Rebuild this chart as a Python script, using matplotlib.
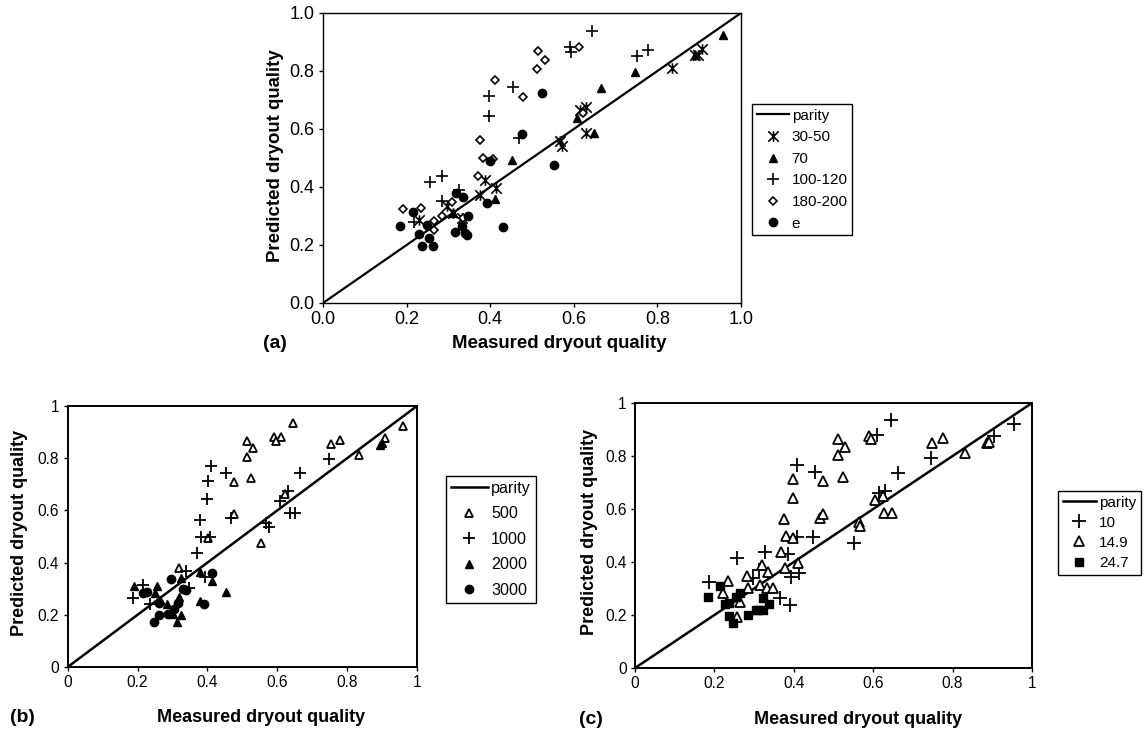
import matplotlib
matplotlib.use("Agg")
import matplotlib.pyplot as plt
from matplotlib.path import Path

plt.rcParams['font.family'] = ['Liberation Sans', 'DejaVu Sans']

# ---- panel (a): grouped by inlet subcooling ----
a_3050_x = [0.229, 0.297, 0.311, 0.333, 0.376, 0.388, 0.415, 0.566, 0.572, 0.616, 0.628, 0.628, 0.835, 0.891, 0.896, 0.907]
a_3050_y = [0.285, 0.336, 0.310, 0.293, 0.374, 0.425, 0.397, 0.557, 0.540, 0.667, 0.676, 0.586, 0.810, 0.854, 0.856, 0.876]
a_70_x = [0.310, 0.412, 0.452, 0.608, 0.648, 0.665, 0.747, 0.891, 0.957]
a_70_y = [0.310, 0.359, 0.492, 0.638, 0.586, 0.741, 0.797, 0.854, 0.925]
a_100_x = [0.217, 0.257, 0.285, 0.285, 0.325, 0.396, 0.396, 0.455, 0.468, 0.592, 0.593, 0.644, 0.751, 0.777]
a_100_y = [0.278, 0.417, 0.437, 0.351, 0.391, 0.713, 0.644, 0.745, 0.569, 0.882, 0.864, 0.939, 0.853, 0.874]
a_180_x = [0.191, 0.234, 0.265, 0.266, 0.285, 0.308, 0.335, 0.372, 0.376, 0.383, 0.406, 0.411, 0.478, 0.512, 0.514, 0.530, 0.612, 0.622]
a_180_y = [0.325, 0.328, 0.284, 0.253, 0.299, 0.348, 0.293, 0.439, 0.563, 0.500, 0.498, 0.770, 0.709, 0.807, 0.868, 0.839, 0.883, 0.655]
a_e_x = [0.185, 0.215, 0.229, 0.238, 0.249, 0.254, 0.262, 0.316, 0.318, 0.333, 0.335, 0.340, 0.345, 0.347, 0.392, 0.400, 0.430, 0.476, 0.525, 0.552]
a_e_y = [0.264, 0.314, 0.238, 0.195, 0.269, 0.223, 0.198, 0.244, 0.379, 0.264, 0.364, 0.241, 0.236, 0.299, 0.345, 0.489, 0.261, 0.584, 0.724, 0.475]

# ---- panel (b): grouped by mass flux ----
b_500_x = [0.645, 0.514, 0.530, 0.592, 0.611, 0.597, 0.513, 0.526, 0.476, 0.476, 0.554, 0.402, 0.319, 0.623, 0.959, 0.908, 0.835, 0.753, 0.780]
b_500_y = [0.936, 0.867, 0.838, 0.880, 0.883, 0.867, 0.806, 0.723, 0.708, 0.585, 0.474, 0.493, 0.378, 0.663, 0.923, 0.876, 0.812, 0.853, 0.870]
b_1000_x = [0.411, 0.402, 0.400, 0.454, 0.378, 0.381, 0.407, 0.467, 0.370, 0.338, 0.392, 0.348, 0.216, 0.186, 0.235, 0.569, 0.575, 0.607, 0.630, 0.635, 0.650, 0.666, 0.749]
b_1000_y = [0.770, 0.713, 0.642, 0.742, 0.563, 0.499, 0.497, 0.572, 0.438, 0.369, 0.346, 0.301, 0.314, 0.266, 0.241, 0.553, 0.538, 0.637, 0.676, 0.589, 0.589, 0.742, 0.796]
b_2000_x = [0.190, 0.256, 0.250, 0.264, 0.285, 0.302, 0.313, 0.323, 0.323, 0.319, 0.378, 0.378, 0.414, 0.452, 0.893, 0.899]
b_2000_y = [0.310, 0.310, 0.282, 0.257, 0.241, 0.203, 0.174, 0.199, 0.340, 0.269, 0.365, 0.254, 0.331, 0.289, 0.850, 0.857]
b_3000_x = [0.228, 0.216, 0.248, 0.262, 0.288, 0.297, 0.305, 0.316, 0.330, 0.340, 0.390, 0.414, 0.262]
b_3000_y = [0.286, 0.282, 0.171, 0.199, 0.202, 0.336, 0.221, 0.244, 0.298, 0.295, 0.240, 0.361, 0.244]

# ---- panel (c): grouped by pressure ----
c_10_x = [0.187, 0.256, 0.296, 0.327, 0.386, 0.392, 0.414, 0.364, 0.390, 0.407, 0.409, 0.449, 0.453, 0.552, 0.610, 0.644, 0.663, 0.746, 0.904, 0.955, 0.615, 0.630, 0.313]
c_10_y = [0.326, 0.416, 0.338, 0.439, 0.430, 0.345, 0.360, 0.263, 0.238, 0.496, 0.766, 0.493, 0.741, 0.473, 0.879, 0.936, 0.737, 0.794, 0.875, 0.920, 0.659, 0.669, 0.370]
c_149_x = [0.233, 0.221, 0.264, 0.258, 0.283, 0.319, 0.334, 0.285, 0.315, 0.332, 0.347, 0.369, 0.375, 0.380, 0.399, 0.397, 0.397, 0.378,
           0.411, 0.466, 0.474, 0.474, 0.512, 0.512, 0.529, 0.523, 0.563, 0.568, 0.590, 0.594, 0.605, 0.749, 0.775, 0.831, 0.886, 0.892, 0.626, 0.647, 0.624]
c_149_y = [0.330, 0.282, 0.250, 0.194, 0.347, 0.389, 0.364, 0.301, 0.313, 0.301, 0.301, 0.439, 0.561, 0.498, 0.489, 0.712, 0.640, 0.376,
           0.395, 0.565, 0.581, 0.706, 0.804, 0.863, 0.835, 0.722, 0.552, 0.536, 0.875, 0.863, 0.634, 0.850, 0.867, 0.810, 0.850, 0.852, 0.586, 0.586, 0.649]
c_247_x = [0.183, 0.214, 0.227, 0.238, 0.238, 0.246, 0.254, 0.264, 0.285, 0.305, 0.311, 0.322, 0.322, 0.338]
c_247_y = [0.267, 0.309, 0.242, 0.247, 0.197, 0.171, 0.269, 0.284, 0.200, 0.219, 0.219, 0.219, 0.265, 0.242]

parity = [0, 1]
ticks = [0, 0.2, 0.4, 0.6, 0.8, 1.0]
ticklabels_a = ['0.0', '0.2', '0.4', '0.6', '0.8', '1.0']
ticklabels_bc = ['0', '0.2', '0.4', '0.6', '0.8', '1']

# Excel-style star marker: X with a vertical bar
star = Path([(-1, -1), (1, 1), (-1, 1), (1, -1), (0, -1), (0, 1)],
            [Path.MOVETO, Path.LINETO] * 3)

W, H = 1144, 731
fig = plt.figure(figsize=(W / 100, H / 100), dpi=100)


def px_axes(l, r, t, b):
    return fig.add_axes([l / W, 1 - b / H, (r - l) / W, (b - t) / H])


def style(ax, labels, tsize, spw):
    ax.set_xlim(0, 1)
    ax.set_ylim(0, 1)
    ax.set_xticks(ticks)
    ax.set_yticks(ticks)
    ax.set_xticklabels(labels)
    ax.set_yticklabels(labels)
    ax.tick_params(direction='out', length=3, width=1, labelsize=tsize, pad=3, colors='black')
    for s in ax.spines.values():
        s.set_linewidth(spw)


def legend(ax, x, y, spacing, fs=11, hl=2.2):
    lg = ax.legend(loc='upper left', bbox_to_anchor=(x / W, 1 - y / H), bbox_transform=fig.transFigure,
                   fontsize=fs, frameon=True, fancybox=False, edgecolor='black', framealpha=1,
                   handlelength=hl, handletextpad=0.2, borderpad=0.3, labelspacing=spacing,
                   borderaxespad=0)
    lg.get_frame().set_linewidth(1)


k = dict(linestyle='none', color='black')

# (a)
ax = px_axes(323, 741, 13, 303)
ax.plot(parity, parity, color='black', lw=1.6, label='parity')
ax.plot(a_3050_x, a_3050_y, marker=star, ms=7.5, mew=1.2, mfc='none', label='30-50', **k)
ax.plot(a_70_x, a_70_y, marker='^', ms=6, label='70', **k)
ax.plot(a_100_x, a_100_y, marker='+', ms=9, mew=1.2, label='100-120', **k)
ax.plot(a_180_x, a_180_y, marker='D', ms=4.2, mew=1.2, mfc='white', label='180-200', **k)
ax.plot(a_e_x, a_e_y, marker='o', ms=6, label='e', **k)
style(ax, ticklabels_a, 13, 1.0)
legend(ax, 752, 104, 0.5, 11, 2.1)
fig.text(559 / W, 1 - 343 / H, 'Measured dryout quality', ha='center', va='center', fontsize=13.4, fontweight='bold')
fig.text(275 / W, 1 - 156 / H, 'Predicted dryout quality', ha='center', va='center', rotation=90, fontsize=13.4, fontweight='bold')
fig.text(275 / W, 1 - 343 / H, '(a)', ha='center', va='center', fontsize=14, fontweight='bold')

# (b)
ax = px_axes(67.7, 417, 406, 667)
ax.plot(parity, parity, color='black', lw=1.8, label='parity')
ax.plot(b_500_x, b_500_y, marker='^', ms=5.5, mew=1.3, mfc='white', label='500', **k)
ax.plot(b_1000_x, b_1000_y, marker='+', ms=9, mew=1.3, label='1000', **k)
ax.plot(b_2000_x, b_2000_y, marker='^', ms=5.5, label='2000', **k)
ax.plot(b_3000_x, b_3000_y, marker='o', ms=6, label='3000', **k)
style(ax, ticklabels_bc, 11.2, 1.4)
legend(ax, 446, 476, 0.65, 11.6, 2.3)
fig.text(261 / W, 1 - 718 / H, 'Measured dryout quality', ha='center', va='center', fontsize=13, fontweight='bold')
fig.text(20 / W, 1 - 533 / H, 'Predicted dryout quality', ha='center', va='center', rotation=90, fontsize=13, fontweight='bold')
fig.text(22 / W, 1 - 717 / H, '(b)', ha='center', va='center', fontsize=14, fontweight='bold')

# (c)
ax = px_axes(635, 1032, 403, 668)
ax.plot(parity, parity, color='black', lw=1.8, label='parity')
ax.plot(c_10_x, c_10_y, marker='+', ms=10, mew=1.3, label='10', **k)
ax.plot(c_149_x, c_149_y, marker='^', ms=6.5, mew=1.3, mfc='white', label='14.9', **k)
ax.plot(c_247_x, c_247_y, marker='s', ms=6, label='24.7', **k)
style(ax, ticklabels_bc, 11.2, 1.4)
legend(ax, 1058, 491, 0.4)
fig.text(858 / W, 1 - 720 / H, 'Measured dryout quality', ha='center', va='center', fontsize=13, fontweight='bold')
fig.text(590 / W, 1 - 532 / H, 'Predicted dryout quality', ha='center', va='center', rotation=90, fontsize=13, fontweight='bold')
fig.text(591 / W, 1 - 720 / H, '(c)', ha='center', va='center', fontsize=14, fontweight='bold')

fig.savefig('out.png', dpi=100, facecolor='white')
